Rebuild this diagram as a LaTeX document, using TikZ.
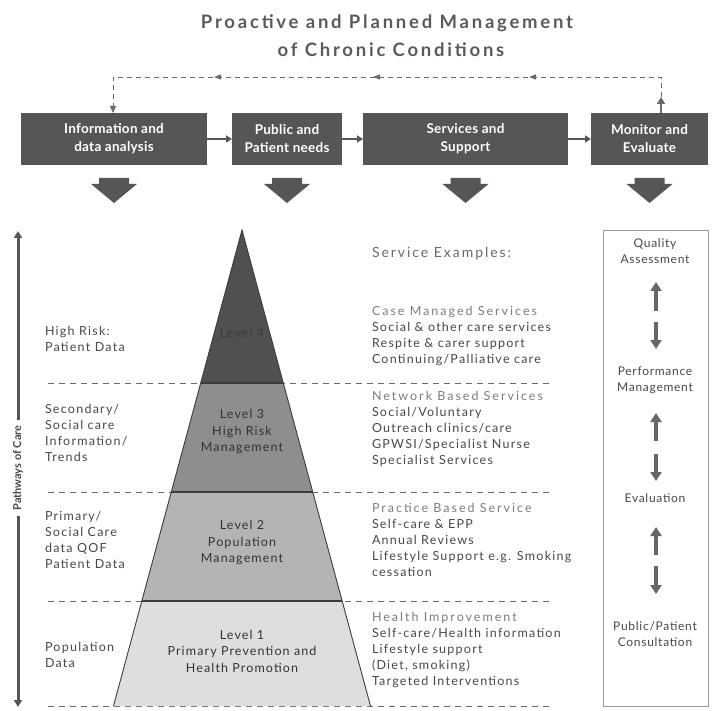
\documentclass[tikz,border=0pt]{standalone}
\usepackage{fontspec}
\setmainfont{Lato}
\usetikzlibrary{arrows.meta,decorations.markings}

\definecolor{boxgray}{HTML}{565656}
\definecolor{titlegray}{HTML}{5A5A5A}
\definecolor{txtgray}{HTML}{474747}
\definecolor{hdgray}{HTML}{7C7C7C}
\definecolor{dashgray}{HTML}{6A6A6A}
\definecolor{lvfour}{HTML}{505050}
\definecolor{lvthree}{HTML}{8E8E8E}
\definecolor{lvtwo}{HTML}{B4B4B4}
\definecolor{lvone}{HTML}{DEDEDE}
\definecolor{edgegray}{HTML}{3C3C3C}
\definecolor{framegray}{HTML}{9A9A9A}
\definecolor{arrgray}{HTML}{666666}

\newcommand{\svchd}[1]{{\color{hdgray}\addfontfeature{LetterSpace=16}#1}}

\begin{document}
\begin{tikzpicture}[x=1pt,y=-1pt,
  every node/.style={inner sep=0pt,outer sep=0pt},
  title/.style={font=\fontsize{18.5}{22}\selectfont\bfseries\addfontfeature{LetterSpace=15},text=titlegray},
  topbox/.style={fill=boxgray,text=white,align=center,minimum height=52pt,
    font=\fontsize{13.5}{18}\selectfont\bfseries\addfontfeature{LetterSpace=2}},
  flowarrow/.style={draw=boxgray,line width=1.6pt,-{Triangle[length=6pt,width=7pt]}},
  fbline/.style={draw=dashgray,line width=0.9pt,dash pattern=on 5pt off 4pt},
  bandline/.style={draw=dashgray,line width=0.9pt,dash pattern=on 6pt off 5pt},
  body/.style={font=\fontsize{12.5}{16}\selectfont\addfontfeature{LetterSpace=10},
    text=txtgray,align=left,anchor=north west},
  lvl/.style={font=\fontsize{12.5}{16.5}\selectfont\addfontfeature{LetterSpace=9},
    align=center},
  side/.style={font=\fontsize{12}{16}\selectfont\addfontfeature{LetterSpace=6},
    text=txtgray,align=center},
  vup/.style={draw=arrgray,line width=3.6pt,-{Triangle[length=9pt,width=11pt]}},
  bigdown/.pic={\fill[boxgray] (-15,0) -- (15,0) -- (15,6) -- (23,6) -- (0,25)
      -- (-23,6) -- (-15,6) -- cycle;}
]
\useasboundingbox (0,0) rectangle (712,711);

% heading
\node[title] (t1) at (387,23) {Proactive and Planned Management};
\node[title] (t2) at (391,50) {of Chronic Conditions};

% process boxes
\node[topbox,minimum width=186pt] (b1) at (114,139) {Information and\\data analysis};
\node[topbox,minimum width=110pt] (b2) at (287,139) {Public and\\Patient needs};
\node[topbox,minimum width=205pt] (b3) at (465.5,139) {Services and\\Support};
\node[topbox,minimum width=117pt] (b4) at (649.5,139) {Monitor and\\Evaluate};

\draw[flowarrow] (b1.east) -- (b2.west);
\draw[flowarrow] (b2.east) -- (b3.west);
\draw[flowarrow] (b3.east) -- (b4.west);

% feedback loop
\coordinate (fbL) at (113,77);
\coordinate (fbR) at (661,77);
\coordinate (fbRu) at (661,97);
\draw[draw=dashgray,line width=1.6pt,-{Triangle[length=7pt,width=8pt]}]
  (fbRu |- b4.north) -- (fbRu);
\draw[fbline,-{Triangle[length=7pt,width=6pt]},
  postaction={decorate},
  decoration={markings,
    mark=at position 152pt with {\arrow[dashgray]{Triangle[length=7pt,width=5pt]}},
    mark=at position 308pt with {\arrow[dashgray]{Triangle[length=7pt,width=5pt]}},
    mark=at position 467pt with {\arrow[dashgray]{Triangle[length=7pt,width=5pt]}}}]
  (fbRu) -- (fbR) -- (fbL) -- (fbL |- b1.north);

% block arrows under the boxes
\path (b1.south) ++(0,13) pic {bigdown};
\path (b2.south) ++(0,13) pic {bigdown};
\path (b3.south) ++(0,13) pic {bigdown};
\path (b4.south) ++(0,13) pic {bigdown};

% band separators
\foreach \yy in {383,492,601,706}
  \draw[bandline] (48,\yy) -- (550,\yy);

% pyramid
\coordinate (apex) at (242,230);
\fill[lvfour]  (apex) -- (283.3,383) -- (200.7,383) -- cycle;
\fill[lvthree] (200.7,383) -- (283.3,383) -- (312.7,492) -- (171.3,492) -- cycle;
\fill[lvtwo]   (171.3,492) -- (312.7,492) -- (342.2,601) -- (141.8,601) -- cycle;
\fill[lvone]   (141.8,601) -- (342.2,601) -- (370.5,706) -- (113.5,706) -- cycle;
\draw[edgegray,line width=0.9pt] (113.5,706) -- (apex) -- (370.5,706);
\draw[edgegray,line width=1.1pt] (200.7,383) -- (283.3,383)
  (171.3,492) -- (312.7,492) (141.8,601) -- (342.2,601);

\node[lvl,text=edgegray] (l4) at (242,333) {Level 4};
\node[lvl,text=black!80] (l3) at (242,432) {Level 3\\High Risk\\Management};
\node[lvl,text=black!80] (l2) at (242,543) {Level 2\\Population\\Management};
\node[lvl,text=black!80] (l1) at (242,651) {Level 1\\Primary Prevention and\\Health Promotion};

% data sources
\node[body] (d4) at (45,326) {High Risk:\\Patient Data};
\node[body] (d3) at (45,404) {Secondary/\\Social care\\Information/\\Trends};
\node[body] (d2) at (45,511) {Primary/\\Social Care\\data QOF\\Patient Data};
\node[body] (d1) at (45,642) {Population\\Data};

% pathways of care
\node[font=\fontsize{11}{12}\selectfont\bfseries,text=txtgray,rotate=90,
  outer sep=5pt] (pw) at (18,468) {Pathways of Care};
\coordinate (pwTop) at (18,231);
\coordinate (pwBot) at (18,707);
\draw[draw=boxgray,line width=3pt,-{Triangle[length=7pt,width=8pt]}] (pw.east) -- (pwTop);
\draw[draw=boxgray,line width=3pt,-{Triangle[length=7pt,width=8pt]}] (pw.west) -- (pwBot);

% service examples
\node[body,anchor=west,font=\fontsize{14}{16}\selectfont\addfontfeature{LetterSpace=14},
  text=hdgray!85!black] (se) at (372,254) {Service Examples:};
\node[body] (s4) at (372,306) {\svchd{Case Managed Services}\\Social \& other care services\\Respite \& carer support\\Continuing/Palliative care};
\node[body] (s3) at (372,391) {\svchd{Network Based Services}\\Social/Voluntary\\Outreach clinics/care\\GPWSI/Specialist Nurse\\Specialist Services};
\node[body] (s2) at (372,503) {\svchd{Practice Based Service}\\Self-care \& EPP\\Annual Reviews\\Lifestyle Support e.g. Smoking\\cessation};
\node[body] (s1) at (372,612) {\svchd{Health Improvement}\\Self-care/Health information\\Lifestyle support\\(Diet, smoking)\\Targeted Interventions};

% monitoring cycle
\draw[framegray,line width=0.8pt] (603,230) rectangle (708,706);
\node[side] (qa) at (655,251) {Quality\\Assessment};
\node[side] (pm) at (655,380) {Performance\\Management};
\node[side] (ev) at (655,498) {Evaluation};
\node[side] (pp) at (655,634) {Public/Patient\\Consultation};

\coordinate (a1u) at (656,282);
\coordinate (a1d) at (656,349);
\coordinate (a2u) at (656,413);
\coordinate (a2d) at (656,481);
\coordinate (a3u) at (656,527);
\coordinate (a3d) at (656,594);
\draw[vup] (a1u |- 0,311) -- (a1u);
\draw[vup] (a1d |- 0,322) -- (a1d);
\draw[vup] (a2u |- 0,441) -- (a2u);
\draw[vup] (a2d |- 0,454) -- (a2d);
\draw[vup] (a3u |- 0,555) -- (a3u);
\draw[vup] (a3d |- 0,566) -- (a3d);
\end{tikzpicture}
\end{document}
